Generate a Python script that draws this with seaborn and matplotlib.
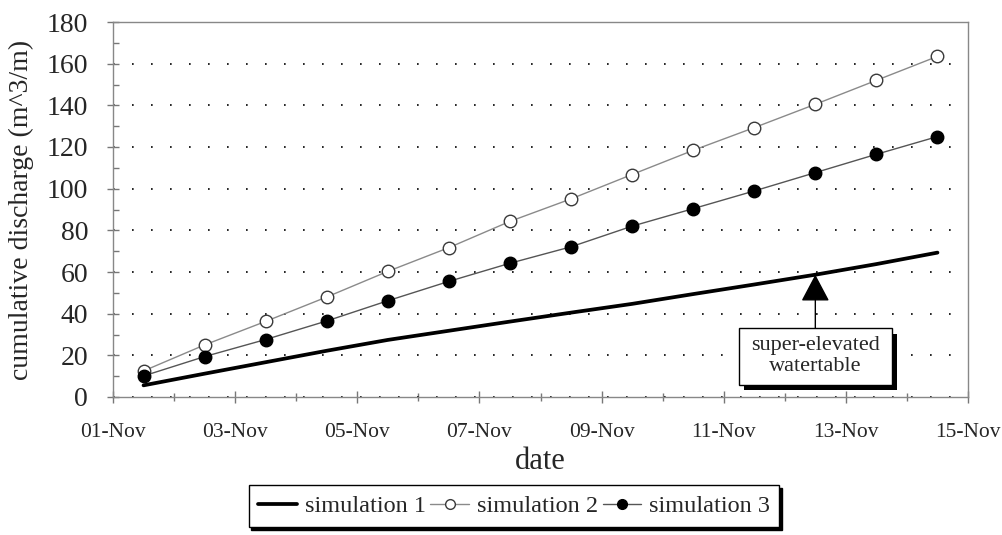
import numpy as np
import pandas as pd
import matplotlib
matplotlib.use("Agg")
import matplotlib.pyplot as plt
import matplotlib.dates as mdates
import matplotlib.patches as mpatches
import matplotlib.patheffects as pe
from matplotlib.ticker import MultipleLocator
import seaborn as sns

# ---- data ----
dates = pd.date_range("1996-11-01 12:00", periods=14, freq="D")
sim1 = [5.6, 11.2, 16.7, 22.2, 27.4, 31.8, 36.2, 40.5, 44.7, 49.4, 54.0, 58.7, 63.8, 69.3]
sim2 = [12.5, 25.0, 36.3, 48.0, 60.3, 71.7, 84.3, 95.1, 106.8, 118.4, 129.3, 140.5, 152.0, 163.5]
sim3 = [10.1, 19.4, 27.6, 36.5, 46.2, 55.5, 64.2, 72.1, 82.0, 90.4, 98.9, 107.7, 116.5, 125.0]
series_labels = ["simulation 1", "simulation 2", "simulation 3"]
x_label = "date"
y_label = "cumulative discharge (m^3/m)"
note_text = "super-elevated\nwatertable"
note_date = pd.Timestamp("1996-11-12 12:00")
note_value = 58.7

sns.set_theme(style="ticks")
plt.rcParams["font.family"] = ["Liberation Serif", "DejaVu Serif"]

fig = plt.figure(figsize=(10.02, 5.35), dpi=100)
ax = fig.add_axes([113 / 1002, 1 - 397 / 535, (968 - 113) / 1002, (397 - 22) / 535])

sns.lineplot(x=dates, y=sim1, ax=ax, color="black", lw=2.7, label=series_labels[0])
sns.lineplot(x=dates, y=sim2, ax=ax, color="#8a8a8a", lw=1.0, marker="o", markersize=9,
             markerfacecolor="white", markeredgecolor="#3a3a3a", markeredgewidth=1.0,
             label=series_labels[1])
sns.lineplot(x=dates, y=sim3, ax=ax, color="#555555", lw=1.0, marker="o", markersize=9,
             markerfacecolor="black", markeredgecolor="black", markeredgewidth=1.0,
             label=series_labels[2])

ax.set_xlim(pd.Timestamp("1996-11-01"), pd.Timestamp("1996-11-15"))
ax.set_ylim(0, 180)
ax.yaxis.set_major_locator(MultipleLocator(20))
ax.yaxis.set_minor_locator(MultipleLocator(10))
ax.xaxis.set_major_locator(mdates.DayLocator(interval=2))
ax.xaxis.set_minor_locator(mdates.DayLocator())
ax.xaxis.set_major_formatter(mdates.DateFormatter("%d-%b"))

ax.yaxis.grid(True, which="major", linestyle=(0, (1, 10.4)), color="black", lw=1.2)
ax.xaxis.grid(False)
ax.set_axisbelow(True)

for s in ax.spines.values():
    s.set_color("#888888")
    s.set_linewidth(1.0)

ax.tick_params(axis="y", which="major", direction="inout", length=8, width=1, color="#777777",
               labelsize=20, pad=14)
ax.tick_params(axis="y", which="minor", direction="in", length=4, width=1, color="#777777")
ax.tick_params(axis="x", which="major", direction="inout", length=8, width=1, color="#777777",
               labelsize=15.5, pad=15)
ax.tick_params(axis="x", which="minor", direction="inout", length=6, width=1, color="#777777")

ax.set_xlabel(x_label, fontsize=22, labelpad=3)
ax.set_ylabel(y_label, fontsize=20, labelpad=9)

# annotation box with shadow
x0 = mdates.date2num(note_date)
bw = 153 / 61.07
rect = mpatches.Rectangle((x0 - bw / 2, 5.8), bw, 27.3, facecolor="white",
                          edgecolor="black", lw=1.0, zorder=5)
rect.set_path_effects([pe.SimplePatchShadow(offset=(4, -4), shadow_rgbFace="black", alpha=1),
                       pe.Normal()])
ax.add_patch(rect)
ax.text(x0, 19.5, note_text, ha="center", va="center", fontsize=16, zorder=6,
        linespacing=1.15)
ax.annotate("", xy=(x0, note_value), xytext=(x0, 33.1),
            arrowprops=dict(arrowstyle="-|>,head_length=1.7,head_width=0.9",
                            mutation_scale=10, color="black", lw=1.0,
                            shrinkA=0, shrinkB=0), zorder=4)

# legend
ax.get_legend().remove()
handles, labels = ax.get_legend_handles_labels()
leg = fig.legend(handles, labels, loc="center", bbox_to_anchor=(0.513, 0.054), ncol=3,
                 frameon=True, fancybox=False, fontsize=17.5, handlelength=1.6,
                 handletextpad=0.3, columnspacing=0.2, borderpad=0.4, borderaxespad=0,
                 shadow={"color": "black", "alpha": 1})
leg.get_frame().set_edgecolor("black")
leg.get_frame().set_linewidth(1.0)
for h in leg.legend_handles:
    h.set_markersize(7)

fig.savefig("out.png", dpi=100)
